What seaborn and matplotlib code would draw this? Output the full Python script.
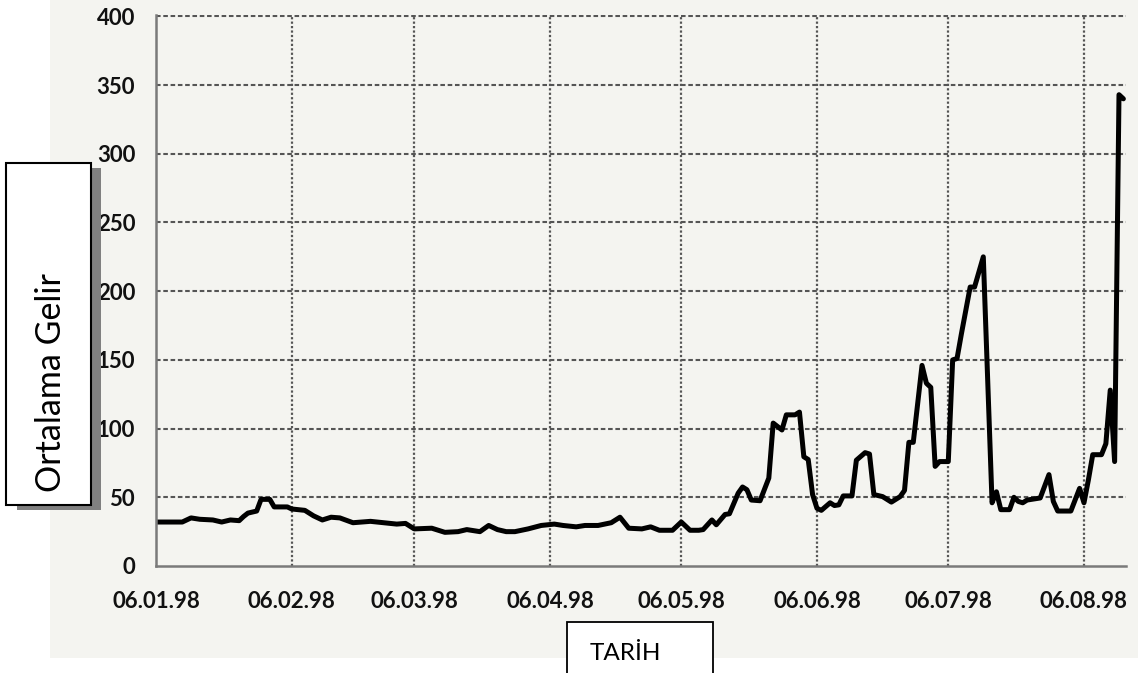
# ortalama_gelir.py

import pandas as pd
import matplotlib.pyplot as plt
import matplotlib.dates as mdates
from matplotlib.patches import Rectangle
import seaborn as sns

# --- Datos ---
start_date = "1998-01-06"

day_offsets = [0, 6, 8, 10, 13, 15, 17, 19, 20, 21, 23, 24, 26, 27, 30, 31, 34, 36, 38, 40,
               42, 45, 49, 52, 55, 57, 59, 63, 66, 69, 71, 74, 76, 78, 80, 82, 85, 88, 91, 93,
               96, 98, 101, 104, 106, 108, 111, 113, 115, 118, 120, 122, 124, 125, 127, 128,
               130, 131, 133, 134, 135, 136, 138, 140, 141, 143, 144, 146, 147, 148, 149, 150,
               151, 152, 154, 155, 156, 157, 159, 160, 162, 163, 164, 166, 168, 170, 171, 172,
               173, 175, 176, 177, 178, 179, 181, 182, 183, 184, 186, 187, 189, 191, 192, 193,
               195, 196, 197, 198, 199, 202, 204, 205, 206, 209, 211, 212, 213, 214, 216, 217,
               218, 219, 220, 221]

ortalama_gelir = [32, 32, 35, 34, 33.5, 32, 33.5, 33, 36, 38.5, 40, 48.5, 48.5, 43, 43, 41.5,
                  40.5, 36.5, 33.5, 35.5, 35, 31.5, 32.5, 31.5, 30.5, 31, 27, 27.5, 24.5, 25,
                  26.5, 25, 29.5, 26.5, 25, 25, 27, 29.5, 30.5, 29.5, 28.5, 29.5, 29.5, 31.5,
                  35.5, 27.5, 27, 28.5, 26, 26, 32, 26, 26, 26.5, 33.5, 30, 37.5, 38, 53, 57.5,
                  55.5, 48, 47.5, 64, 104, 99, 110, 110, 112, 79.5, 77.5, 52, 42, 40.5, 46, 44,
                  44.5, 51, 51, 77, 82.5, 81.5, 52, 50.5, 46.5, 50.5, 55, 90, 90, 146, 133, 130,
                  72.5, 76, 76, 150, 151, 169, 203, 203, 225, 46, 54, 41, 41, 50, 47, 46, 48,
                  49.5, 66.5, 47, 40, 40, 56.5, 46, 62.5, 81, 81, 89, 128, 76, 343, 340]

tick_dates = ["1998-01-06", "1998-02-06", "1998-03-06", "1998-04-06",
              "1998-05-06", "1998-06-06", "1998-07-06", "1998-08-06"]
y_ticks = [0, 50, 100, 150, 200, 250, 300, 350, 400]

df = pd.DataFrame({
    "TARIH": pd.Timestamp(start_date) + pd.to_timedelta(day_offsets, unit="D"),
    "GELIR": ortalama_gelir,
})

# --- Estilo ---
sns.set_theme(style="ticks")
plt.rcParams["font.family"] = ["Lato", "DejaVu Sans"]

W, H = 1142, 673
fig = plt.figure(figsize=(W / 100, H / 100), dpi=100, facecolor="white")

# fondo gris claro de la imagen original
fig.patches.append(Rectangle((50 / W, 1 - 658 / H), 1 - 50 / W - 4 / W, 658 / H,
                             transform=fig.transFigure, facecolor="#f4f4f0",
                             edgecolor="none", zorder=-2))

ax = fig.add_axes([156 / W, 1 - 566 / H, (1126 - 156) / W, (566 - 15) / H])
ax.set_facecolor("none")

sns.lineplot(data=df, x="TARIH", y="GELIR", color="black", linewidth=3.6, ax=ax,
             solid_joinstyle="round")

ax.set_xlim(pd.Timestamp(start_date), pd.Timestamp(start_date) + pd.Timedelta(days=221.6))
ax.set_ylim(0, 401)

ax.set_xticks(pd.to_datetime(tick_dates))
ax.xaxis.set_major_formatter(mdates.DateFormatter("%d.%m.%y"))
ax.set_yticks(y_ticks)

for lab in ax.get_xticklabels() + ax.get_yticklabels():
    lab.set_fontweight("bold")
    lab.set_fontsize(16)
    lab.set_color("#111111")
ax.tick_params(axis="x", length=0, pad=18)
ax.tick_params(axis="y", length=0, pad=15)

ax.set_xlabel("")
ax.set_ylabel("")

# grilla punteada
ax.grid(False)
for yv in y_ticks[1:]:
    ax.axhline(yv, color="#555555", linewidth=1.5, dashes=(2.2, 1.3), zorder=0.5)
for td in tick_dates[1:]:
    ax.axvline(pd.Timestamp(td), color="#555555", linewidth=1.6, dashes=(1.0, 1.0), zorder=0.5)

for side in ["top", "right"]:
    ax.spines[side].set_visible(False)
for side in ["left", "bottom"]:
    ax.spines[side].set_color("#7a7a7a")
    ax.spines[side].set_linewidth(1.8)

# caja del eje Y con sombra
fig.patches.append(Rectangle((17 / W, 1 - 510 / H), 84 / W, 342 / H, transform=fig.transFigure,
                             facecolor="#808080", edgecolor="none", zorder=3))
fig.patches.append(Rectangle((6 / W, 1 - 505 / H), 85 / W, 342 / H, transform=fig.transFigure,
                             facecolor="white", edgecolor="black", linewidth=1.5, zorder=4))
fig.text(51 / W, 1 - 383 / H, "Ortalama Gelir", rotation=90, ha="center", va="center",
         fontsize=24.5, color="black", zorder=5)

# caja del eje X
fig.patches.append(Rectangle((567 / W, 1 - 680 / H), 146 / W, 58 / H, transform=fig.transFigure,
                             facecolor="white", edgecolor="black", linewidth=1.3, zorder=4))
fig.text(625 / W, 1 - 654 / H, "TARİH", ha="center", va="center",
         fontsize=17.5, color="black", zorder=5)

plt.savefig("out.png", dpi=100)
